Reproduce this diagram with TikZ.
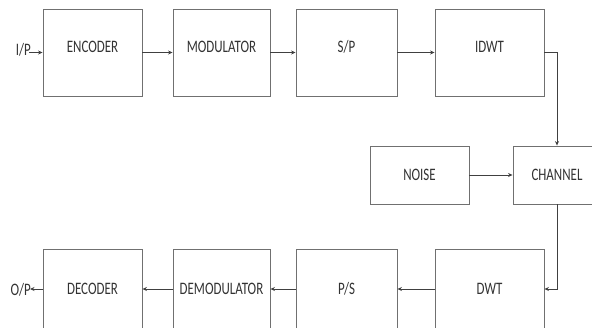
\documentclass[tikz,border=0pt]{standalone}
\usepackage{fontspec}
\setmainfont[FakeStretch=0.74]{Carlito}
\usetikzlibrary{arrows.meta}
\definecolor{boxline}{HTML}{707070}
\definecolor{wire}{HTML}{404040}
\definecolor{txt}{HTML}{333333}
\begin{document}
\begin{tikzpicture}[x=1pt,y=-1pt,
  blk/.style={draw=boxline,line width=0.9pt,rectangle,inner sep=0pt,text=txt,
    font=\fontsize{17.5}{20}\selectfont,text height=11pt,text depth=0pt},
  upblk/.style={blk,text depth=11pt},
  conn/.style={draw=wire,line width=0.9pt,-{Stealth[length=4.5pt,width=4pt]}},
  lbl/.style={text=txt,font=\fontsize{17.5}{20}\selectfont,inner sep=0pt}]
\useasboundingbox (0,0) rectangle (592,327);
\clip (0,0) rectangle (592,327);
% top row
\node[upblk,minimum width=99pt,minimum height=87pt] (enc) at (92.5,52.5) {ENCODER};
\node[upblk,minimum width=97pt,minimum height=87pt] (mod) at (221.5,52.5) {MODULATOR};
\node[upblk,minimum width=101pt,minimum height=87pt] (sp) at (346.5,52.5) {S/P};
\node[upblk,minimum width=109pt,minimum height=87pt] (idwt) at (489.5,52.5) {IDWT};
% middle row
\node[blk,minimum width=99pt,minimum height=58pt] (noise) at (419.5,175) {NOISE};
\node[blk,minimum width=88pt,minimum height=58pt] (chan) at (557,175) {CHANNEL};
% bottom row
\node[blk,minimum width=109pt,minimum height=80pt] (dwt) at (489.5,289) {DWT};
\node[blk,minimum width=101pt,minimum height=80pt] (ps) at (346.5,289) {P/S};
\node[blk,minimum width=97pt,minimum height=80pt] (demod) at (221.5,289) {DEMODULATOR};
\node[blk,minimum width=99pt,minimum height=80pt] (dec) at (92.5,289) {DECODER};
% input / output
\node[lbl,anchor=base east] (ip) at (31,55.5) {I/P};
\coordinate (ipc) at (29,52.5);
\node[lbl,anchor=base east] (op) at (31,295.5) {O/P};
\coordinate (opc) at (30,289);
% connectors
\draw[conn] (ipc) -- (enc.west);
\draw[conn] (enc.east) -- (mod.west);
\draw[conn] (mod.east) -- (sp.west);
\draw[conn] (sp.east) -- (idwt.west);
\draw[conn] (idwt.east) -| (chan.north);
\draw[conn] (noise.east) -- (chan.west);
\draw[conn] (chan.south) |- (dwt.east);
\draw[conn] (dwt.west) -- (ps.east);
\draw[conn] (ps.west) -- (demod.east);
\draw[conn] (demod.west) -- (dec.east);
\draw[conn] (dec.west) -- (opc);
\end{tikzpicture}
\end{document}
